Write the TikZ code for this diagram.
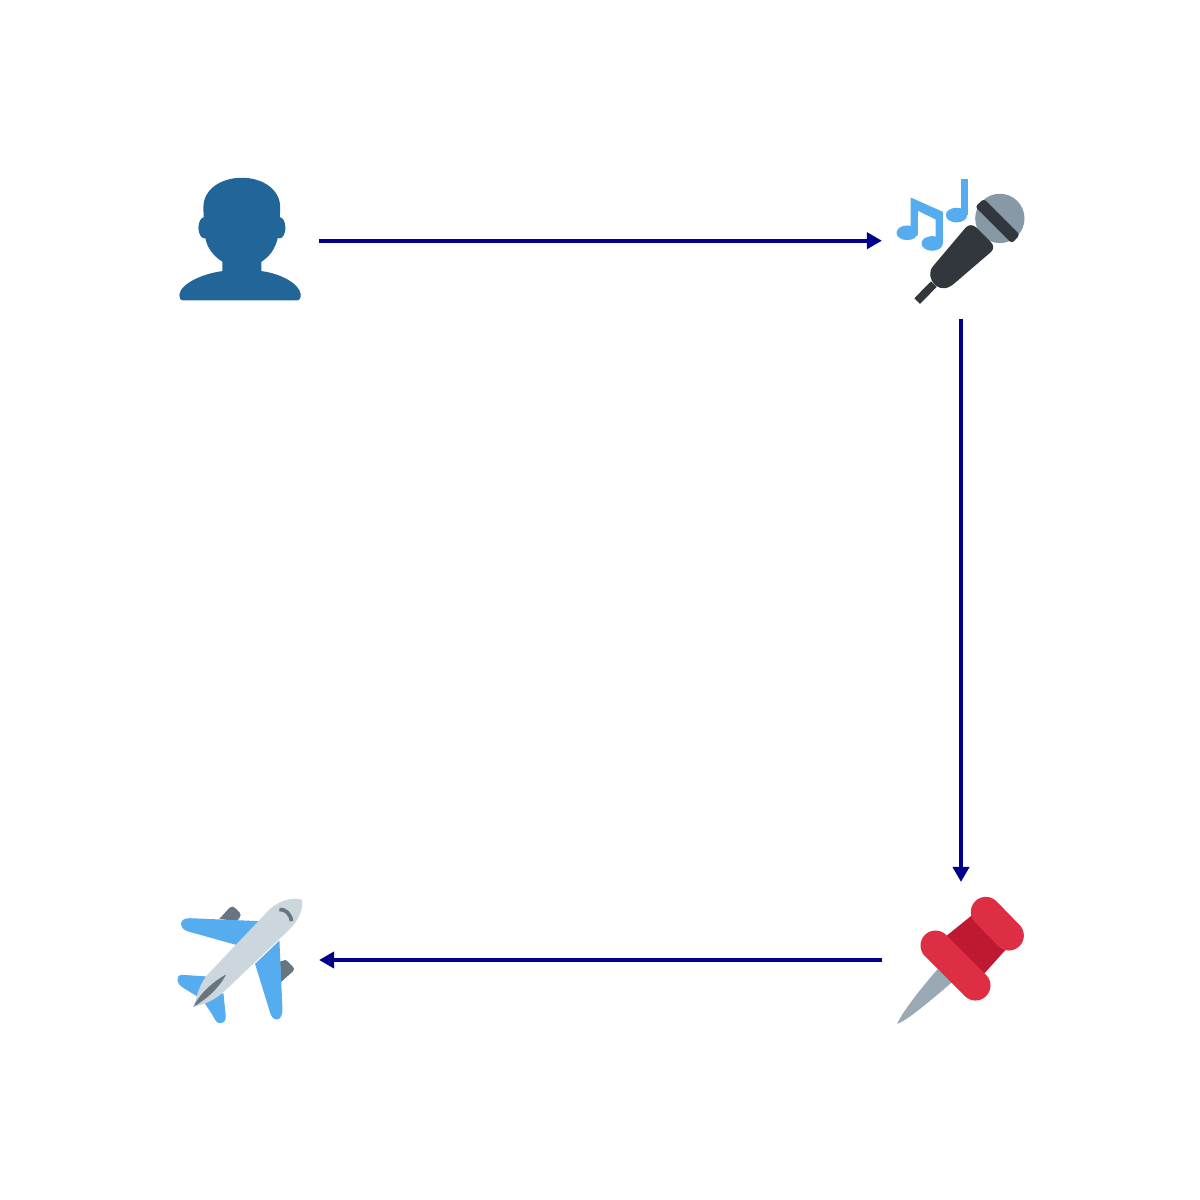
\documentclass[tikz,border=0pt]{standalone}
\usetikzlibrary{arrows.meta}
\definecolor{personblue}{HTML}{226699}
\definecolor{noteblue}{HTML}{55ACEE}
\definecolor{micgrey}{HTML}{8899A6}
\definecolor{micdark}{HTML}{31373D}
\definecolor{pinred}{HTML}{DD2E44}
\definecolor{pindark}{HTML}{BE1931}
\definecolor{pingrey}{HTML}{99AAB5}
\definecolor{planegrey}{HTML}{66757F}
\definecolor{planebody}{HTML}{CCD6DD}
\definecolor{linkblue}{HTML}{00008B}
\tikzset{
  iconbox/.style={minimum size=1.58cm,inner sep=0pt,outer sep=0pt},
  link/.style={draw=linkblue,line width=0.036cm,-{Triangle[length=0.15cm,width=0.16cm]}},
  icon/.style={x=0.01cm/3,y=-0.01cm/3,line join=round}
}
\begin{document}
\begin{tikzpicture}[x=0.01cm,y=-0.01cm]
\useasboundingbox (0,0) rectangle (1200,1200);
\fill[white] (0,0) rectangle (1200,1200);
\node[iconbox] (person) at (240,240.7) {};
\node[iconbox,minimum height=1.57cm] (mic) at (961,240.7) {};
\node[iconbox,minimum height=1.56cm] (pin) at (961,960) {};
\node[iconbox] (plane) at (240,960) {};
% person
\begin{scope}[icon,shift={(1.6cm,-1.6cm)}]
\fill[personblue] (133,203) ellipse (18 and 32) (358,203) ellipse (18 and 32);
\fill[personblue] (70,421) .. controls (60,421) and (58,413) .. (58,403)
 .. controls (62,370) and (130,340) .. (187,333) -- (187,305)
 .. controls (155,285) and (135,255) .. (133,215)
 .. controls (132,195) and (130,170) .. (130,140)
 .. controls (130,90) and (180,53) .. (245,53)
 .. controls (310,53) and (360,90) .. (360,140)
 .. controls (360,170) and (358,195) .. (356,215)
 .. controls (352,255) and (335,285) .. (304,305) -- (304,333)
 .. controls (360,340) and (418,370) .. (422,403)
 .. controls (422,413) and (420,421) .. (410,421) -- cycle;
\end{scope}
% microphone
\begin{scope}[icon,shift={(8.8cm,-1.6cm)}]
\fill[noteblue] (80,218) ellipse (32 and 22) (155,250) ellipse (32 and 22) (228,165) ellipse (32 and 22);
\fill[noteblue] (90,112) -- (187,155) -- (187,250) -- (165,250) -- (165,178) -- (112,152) -- (112,225) -- (90,225) -- cycle;
\fill[noteblue] (240,58) -- (261,58) -- (261,165) -- (240,165) -- cycle;
\fill[micgrey] (358,175) circle (74);
\draw[micdark,line width=0.08cm] (160,372) -- (110,423);
\fill[micdark,rounded corners=0.03cm] (284,140) -- (310,116) -- (418,224) -- (394,250) -- cycle;
\fill[micdark] (255,203) .. controls (265,192) and (278,193) .. (288,203)
 -- (330,245) .. controls (340,255) and (341,265) .. (332,275)
 -- (225,367) .. controls (205,385) and (185,392) .. (165,375)
 .. controls (147,360) and (143,335) .. (158,318) -- cycle;
\end{scope}
% pin
\begin{scope}[icon,shift={(8.8cm,-8.8cm)}]
\fill[pingrey] (50,430) .. controls (65,395) and (120,325) .. (172,265) -- (215,305)
 .. controls (150,360) and (80,420) .. (50,430) -- cycle;
\fill[pindark] (193,170) -- (282,98) -- (385,197) -- (305,286) -- cycle;
\draw[pinred,line width=0.3cm,line cap=round] (165,195) -- (285,315);
\draw[pinred,line width=0.3cm,line cap=round] (316,94) -- (385,165);
\end{scope}
% plane
\begin{scope}[icon,shift={(1.6cm,-8.8cm)}]
\fill[planegrey] (178,115) -- (208,82) .. controls (213,77) and (220,77) .. (225,82) -- (238,95)
 .. controls (243,100) and (243,107) .. (238,112) -- (230,122) -- cycle;
\fill[planegrey] (360,243) -- (368,241) .. controls (373,236) and (378,238) .. (383,243) -- (398,258)
 .. controls (403,263) and (403,268) .. (398,273) -- (362,305) -- cycle;
\fill[noteblue] (300,122) -- (90,113) .. controls (70,112) and (62,122) .. (63,132)
 .. controls (65,145) and (75,150) .. (85,153) -- (228,193) -- cycle;
\fill[noteblue] (358,180) -- (367,385) .. controls (368,405) and (360,417) .. (350,417)
 .. controls (338,417) and (332,405) .. (328,390) -- (285,250) -- cycle;
\fill[noteblue] (142,288) -- (68,283) .. controls (55,282) and (50,292) .. (52,300)
 .. controls (54,310) and (60,316) .. (68,321) -- (115,350) -- cycle;
\fill[noteblue] (190,338) -- (197,408) .. controls (198,420) and (190,428) .. (180,428)
 .. controls (170,428) and (165,418) .. (158,405) -- (130,362) -- cycle;
\fill[planebody] (425,58) .. controls (405,50) and (365,55) .. (330,85)
 -- (140,285) .. controls (120,310) and (110,340) .. (103,378)
 .. controls (135,372) and (170,355) .. (195,330)
 -- (390,145) .. controls (415,120) and (432,80) .. (425,58) -- cycle;
\fill[planegrey] (100,379) .. controls (115,345) and (155,305) .. (198,282)
 .. controls (175,325) and (140,355) .. (100,379) -- cycle;
\draw[planegrey,line width=0.037cm] (358,87) .. controls (375,85) and (392,100) .. (394,122);
\end{scope}
% connectors
\draw[link] (person.east) -- (mic.west);
\draw[link] (mic.south) -- (pin.north);
\draw[link] (pin.west) -- (plane.east);
\end{tikzpicture}
\end{document}
